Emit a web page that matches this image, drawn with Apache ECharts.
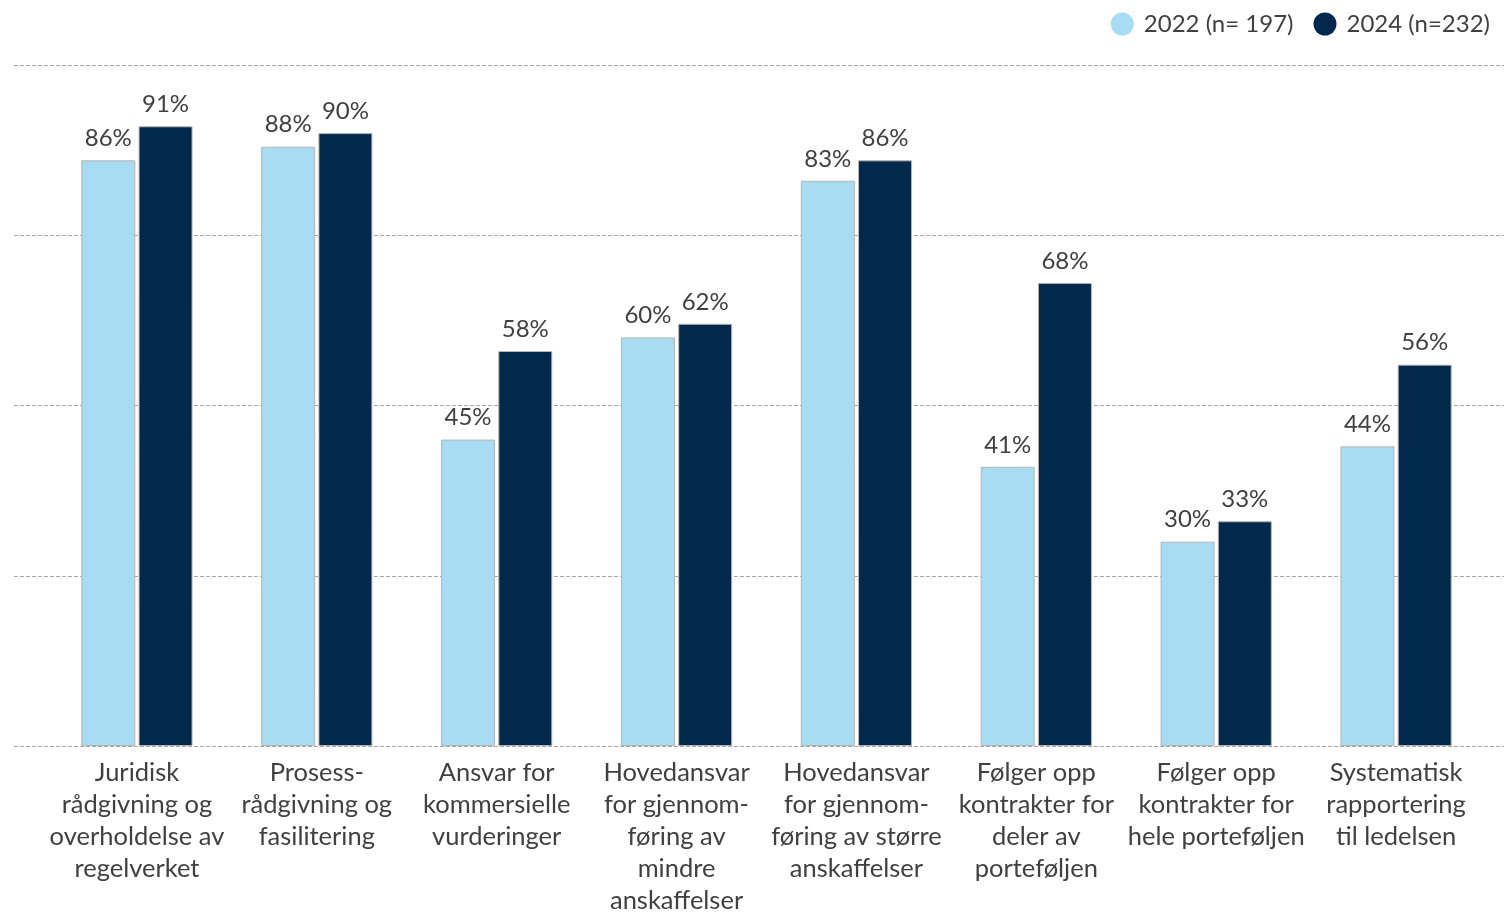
<!DOCTYPE html>
<html>
<head>
<meta charset="utf-8">
<script src="https://cdn.jsdelivr.net/npm/echarts@6/dist/echarts.min.js"></script>
<style>
  html, body { margin: 0; padding: 0; background: #fff; }
  #chart { width: 1504px; height: 912px; }
</style>
</head>
<body>
<div id="chart"></div>
<script>
// Oppgaver innkjøpsfunksjonen har ansvar for, andel (%)
const categories = [
  'Juridisk\nrådgivning og\noverholdelse av\nregelverket',
  'Prosess-\nrådgivning og\nfasilitering',
  'Ansvar for\nkommersielle\nvurderinger',
  'Hovedansvar\nfor gjennom-\nføring av\nmindre\nanskaffelser',
  'Hovedansvar\nfor gjennom-\nføring av større\nanskaffelser',
  'Følger opp\nkontrakter for\ndeler av\nporteføljen',
  'Følger opp\nkontrakter for\nhele porteføljen',
  'Systematisk\nrapportering\ntil ledelsen'
];
const values2022 = [86, 88, 45, 60, 83, 41, 30, 44];
const values2024 = [91, 90, 58, 62, 86, 68, 33, 56];
const seriesNames = ['2022 (n= 197)', '2024 (n=232)'];

const FONT = 'Lato';
const TEXT = '#404040';

const chart = echarts.init(document.getElementById('chart'), null, { renderer: 'canvas' });

const labelStyle = {
  show: true,
  position: 'top',
  distance: 10,
  formatter: '{c}%',
  fontFamily: FONT,
  fontSize: 24,
  color: TEXT
};

chart.setOption({
  animation: false,
  textStyle: { fontFamily: FONT },
  legend: {
    data: seriesNames,
    right: 9,
    top: 7,
    icon: 'circle',
    itemWidth: 23,
    itemHeight: 23,
    itemGap: 20,
    itemStyle: { borderWidth: 0 },
    textStyle: { fontFamily: FONT, fontSize: 24, color: TEXT, padding: [0, 0, 0, 5] }
  },
  grid: [
    // full-width grid carrying the dashed gridlines
    { left: 14, right: 0, top: 65, bottom: 166, outerBoundsMode: 'none', containLabel: false },
    // grid holding the bars
    { left: 47, right: 18, top: 65, bottom: 166, outerBoundsMode: 'none', containLabel: false }
  ],
  xAxis: [
    { gridIndex: 0, type: 'value', show: false, min: 0, max: 1 },
    {
      gridIndex: 1,
      type: 'category',
      data: categories,
      axisLine: { show: false },
      axisTick: { show: false },
      axisLabel: {
        interval: 0,
        margin: 11,
        fontFamily: FONT,
        fontSize: 25.5,
        lineHeight: 32,
        color: TEXT,
        align: 'center'
      }
    }
  ],
  yAxis: [
    {
      gridIndex: 0,
      type: 'value',
      min: 0,
      max: 100,
      interval: 25,
      axisLine: { show: false },
      axisTick: { show: false },
      axisLabel: { show: false },
      splitLine: { show: true, lineStyle: { color: '#a6a6a6', type: [4, 2], width: 1 } }
    },
    {
      gridIndex: 1,
      type: 'value',
      min: 0,
      max: 100,
      interval: 25,
      show: false,
      splitLine: { show: false }
    }
  ],
  series: [
    {
      name: seriesNames[0],
      type: 'bar',
      xAxisIndex: 1,
      yAxisIndex: 1,
      data: values2022,
      barWidth: 54,
      barGap: '6%',
      itemStyle: { color: '#a8dcf3', borderColor: '#b4b4b4', borderWidth: 1 },
      label: labelStyle
    },
    {
      name: seriesNames[1],
      type: 'bar',
      xAxisIndex: 1,
      yAxisIndex: 1,
      data: values2024,
      barWidth: 54,
      barGap: '6%',
      itemStyle: { color: '#02294b', borderColor: '#b4b4b4', borderWidth: 1 },
      label: labelStyle
    }
  ]
});
</script>
</body>
</html>
